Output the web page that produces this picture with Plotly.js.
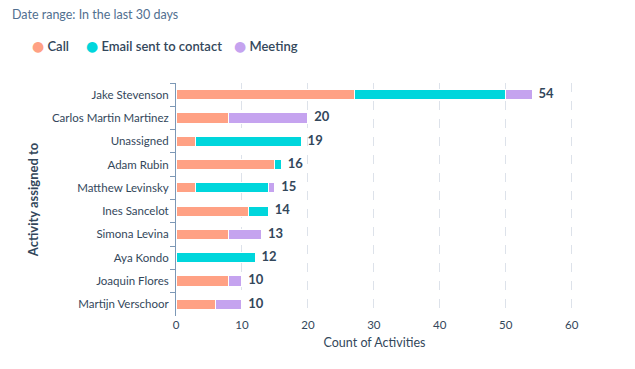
<!DOCTYPE html>
<html><head><meta charset="utf-8">
<script src="https://cdn.plot.ly/plotly-3.0.1.min.js"></script>
<style>html,body{margin:0;padding:0;background:#fff}#c{width:635px;height:369px}</style>
</head><body><div id="c"></div>
<script>
const people = ["Jake Stevenson","Carlos Martin Martinez","Unassigned","Adam Rubin","Matthew Levinsky","Ines Sancelot","Simona Levina","Aya Kondo","Joaquin Flores","Martijn Verschoor"];
const call    = [27, 8, 3, 15, 3, 11, 8, 0, 8, 6];
const email   = [23, 0, 16, 1, 11, 3, 0, 12, 0, 0];
const meeting = [4, 12, 0, 0, 1, 0, 5, 0, 2, 4];
const totals  = [54, 20, 19, 16, 15, 14, 13, 12, 10, 10];
const seriesNames = ["Call", "Email sent to contact", "Meeting"];
const colors = ["#ffa184", "#00d6dc", "#c5a3ef"];
const xTicks = [0, 10, 20, 30, 40, 50, 60];

const font = "Lato, 'Open Sans', sans-serif";
const dark = "#33475b";
const series = [call, email, meeting];
const traces = series.map((vals, i) => ({
  type: "bar", orientation: "h", y: people, x: vals, name: seriesNames[i],
  marker: {color: colors[i], line: {color: "#ffffff", width: 1}},
  showlegend: false, hoverinfo: "x+name"
}));
traces.push({
  type: "scatter", mode: "text", x: totals, y: people, text: totals.map(String),
  texttemplate: "  %{text}",
  textposition: "middle right", showlegend: false, hoverinfo: "skip",
  textfont: {family: font, size: 13, color: dark, weight: 700}, cliponaxis: false
});

const L = 176, R = 62, T = 83, B = 53, W = 635, H = 369;
const pw = W - L - R, ph = H - T - B;
const px = v => (v - L) / pw;           // container px -> paper x
const py = v => 1 + (T - v) / ph;       // container px -> paper y
const legendX = [30, 84, 232];
const annotations = [{xref: "paper", yref: "paper", x: px(10), y: py(15),
    text: "Date range: In the last 30 days",
    showarrow: false, xanchor: "left", yanchor: "middle",
    font: {size: 12.5, color: "#516f90"}}];
seriesNames.forEach((n, i) => annotations.push({
  xref: "paper", yref: "paper", x: px(legendX[i]), y: py(46), xanchor: "left", yanchor: "middle",
  showarrow: false,
  text: `<span style="color:${colors[i]};font-size:14px;font-family:'DejaVu Sans'">●</span> ${n}`,
  font: {size: 13, color: dark, weight: 600}
}));

const layout = {
  width: W, height: H,
  margin: {l: L, r: R, t: T, b: B},
  barmode: "stack", bargap: 0.56,
  paper_bgcolor: "#fff", plot_bgcolor: "#fff",
  font: {family: font, color: dark},
  showlegend: false,
  xaxis: {range: [0, 60.2], tickvals: xTicks, ticks: "", showline: false, zeroline: false,
          showgrid: true, gridcolor: "#dde2ea", griddash: "dash", gridwidth: 1,
          tickfont: {size: 11.5, color: dark}, fixedrange: true,
          title: {text: "Count of Activities", font: {size: 12.5, color: dark}, standoff: 8}},
  yaxis: {type: "category", range: [9.5, -0.5], showline: true, linecolor: "#7c98b6", linewidth: 1,
          ticks: "outside", tickson: "boundaries", ticklen: 5, tickcolor: "#7c98b6",
          showgrid: false, zeroline: false, tickfont: {size: 11.5, color: dark}, ticklabelstandoff: 4,
          title: {text: "Activity assigned to", font: {size: 13, color: dark, weight: 700}, standoff: 10}},
  annotations: annotations
};
Plotly.newPlot("c", traces, layout, {displayModeBar: false, staticPlot: true});
</script></body></html>
